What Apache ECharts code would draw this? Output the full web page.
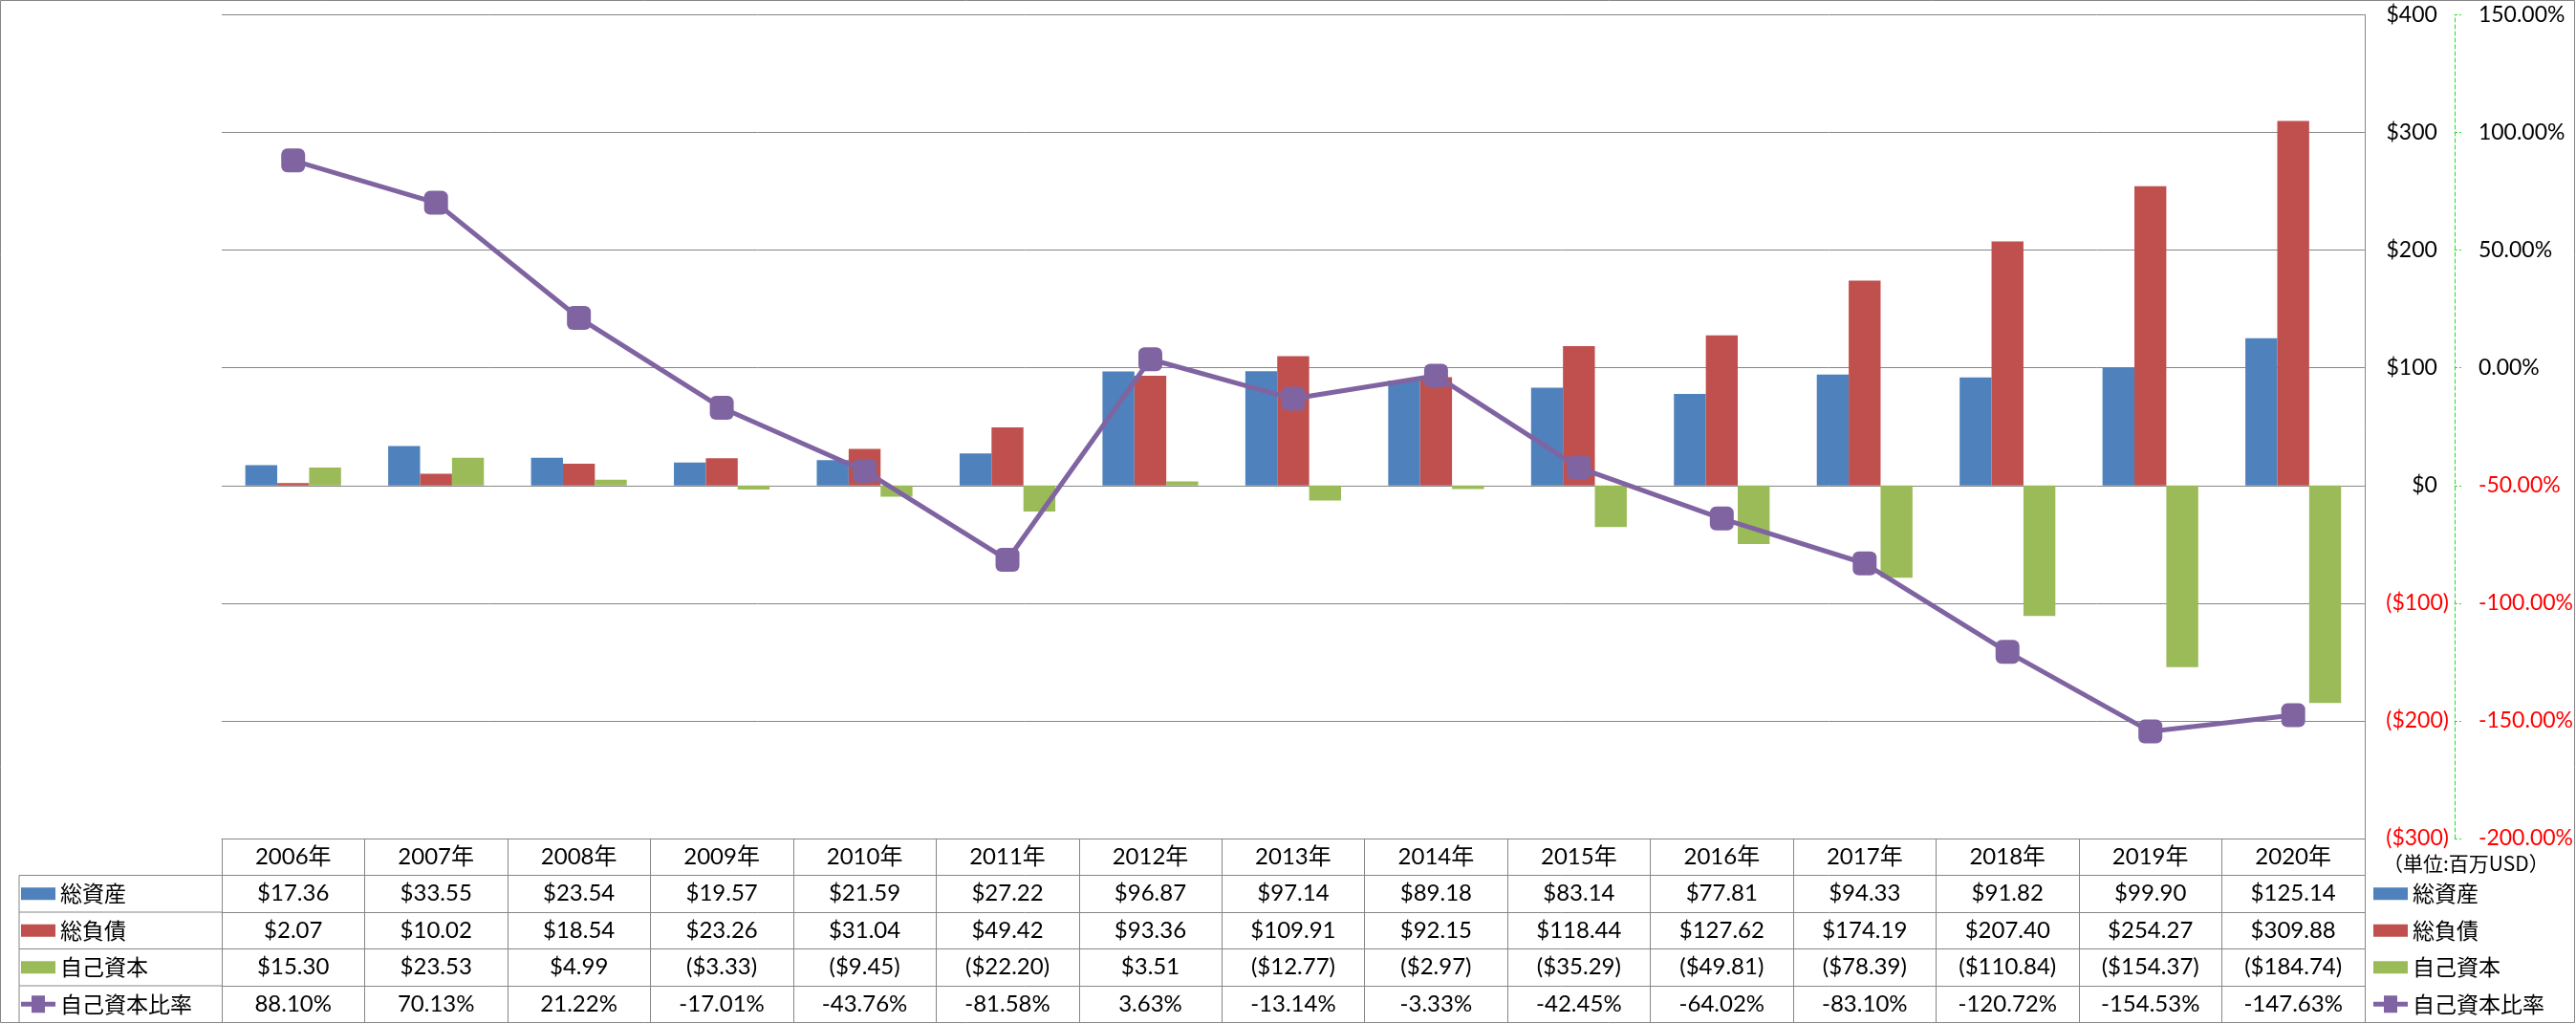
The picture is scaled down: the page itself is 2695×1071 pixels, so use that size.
<!DOCTYPE html>
<html><head><meta charset="utf-8">
<script src="https://cdn.jsdelivr.net/npm/echarts@6/dist/echarts.min.js"></script>
<style>html,body{margin:0;padding:0;background:#fff;} #c{width:2695px;height:1071px;}</style>
</head><body><div id="c"></div>
<script>
// ---- data ----
const years = ['2006年','2007年','2008年','2009年','2010年','2011年','2012年','2013年','2014年','2015年','2016年','2017年','2018年','2019年','2020年'];
const totalAssets = [17.36,33.55,23.54,19.57,21.59,27.22,96.87,97.14,89.18,83.14,77.81,94.33,91.82,99.90,125.14];
const totalLiabilities = [2.07,10.02,18.54,23.26,31.04,49.42,93.36,109.91,92.15,118.44,127.62,174.19,207.40,254.27,309.88];
const equity = [15.30,23.53,4.99,-3.33,-9.45,-22.20,3.51,-12.77,-2.97,-35.29,-49.81,-78.39,-110.84,-154.37,-184.74];
const equityRatio = [88.10,70.13,21.22,-17.01,-43.76,-81.58,3.63,-13.14,-3.33,-42.45,-64.02,-83.10,-120.72,-154.53,-147.63];
const seriesNames = ['総資産','総負債','自己資本','自己資本比率'];
const unitLabel = '（単位:百万USD）';

// ---- layout / style ----
const W = 2695, H = 1071;
const gridLeft = 232, gridRightX = 2477, gridTop = 15.5, gridBottomY = 877;
const rowH = 38.5;
const gridColor = '#868686';
const colors = ['#4F81BD','#C0504D','#9BBB59','#8064A2'];
const axisFont = 'Lato, "Noto Sans", sans-serif';
const tableFont = '"Liberation Sans Narrow", Lato, "Noto Sans CJK JP", sans-serif';
const cjkFont = '"Noto Sans CJK JP", sans-serif';

const fmtDollar = v => v < 0 ? '($' + (-v).toFixed(2) + ')' : '$' + v.toFixed(2);
const fmtPct = v => v.toFixed(2) + '%';

function rowAxis(data, k) {
  return {
    type: 'category', gridIndex: 0, position: 'bottom', offset: k * rowH, data: data,
    boundaryGap: true,
    axisLine: {show: true, onZero: false, lineStyle: {color: gridColor, width: 1}},
    axisTick: {show: true, interval: 0, length: rowH, lineStyle: {color: gridColor, width: 1}},
    axisLabel: {show: true, interval: 0, margin: rowH / 2, verticalAlign: 'middle',
      color: '#000', fontSize: 24, fontFamily: tableFont},
    splitLine: {show: false}
  };
}

const chart = echarts.init(document.getElementById('c'), null, {renderer: 'canvas'});

// legend icons (bar swatch padded vertically inside a 36x18 box; line icon = thick line + square marker)
const barIcon = 'path://M0,0M0,2.5H36V15.5H0ZM36,18';
const lineIcon = 'path://M0,6.5H11V0H25V6.5H36V11.5H25V18H11V11.5H0Z';
const legendData = seriesNames.map((n, i) => ({name: n, icon: i < 3 ? barIcon : lineIcon}));

const legendBase = {
  orient: 'vertical', itemWidth: 36, itemHeight: 18, itemGap: rowH - 24,
  padding: 0, height: 170,
  selectedMode: false, data: legendData,
  top: gridBottomY + rowH * 1.5 - 12,
  textStyle: {fontSize: 23, lineHeight: 24, color: '#000', fontFamily: cjkFont}
};

const lines = [];
lines.push({type: 'line', shape: {x1: 20, y1: gridBottomY + rowH, x2: 20, y2: gridBottomY + rowH * 5}, style: {stroke: gridColor, lineWidth: 1}});
for (let k = 1; k <= 4; k++) {
  lines.push({type: 'line', shape: {x1: 20, y1: gridBottomY + rowH * k, x2: gridLeft, y2: gridBottomY + rowH * k}, style: {stroke: gridColor, lineWidth: 1}});
}

chart.setOption({
  animation: false,
  backgroundColor: '#fff',
  grid: {left: gridLeft, right: W - gridRightX, top: gridTop, bottom: H - gridBottomY, containLabel: false},
  legend: [
    Object.assign({}, legendBase, {left: 22}),
    Object.assign({}, legendBase, {left: 2483})
  ],
  xAxis: [
    rowAxis(years, 0),
    rowAxis(totalAssets.map(fmtDollar), 1),
    rowAxis(totalLiabilities.map(fmtDollar), 2),
    rowAxis(equity.map(fmtDollar), 3),
    rowAxis(equityRatio.map(fmtPct), 4)
  ],
  yAxis: [
    {
      type: 'value', position: 'right', min: -300, max: 400, interval: 100,
      axisLine: {show: true, lineStyle: {color: gridColor, width: 1}},
      axisTick: {show: false},
      splitLine: {show: true, lineStyle: {color: gridColor, width: 1}},
      axisLabel: {
        margin: 88, align: 'right', verticalAlign: 'middle',
        formatter: v => v < 0 ? '{n|($' + (-v) + ')}' : '{p|$' + v + '}',
        rich: {
          n: {color: '#FF0000', fontSize: 23, fontFamily: axisFont},
          p: {color: '#000', fontSize: 23, fontFamily: axisFont, padding: [0, 12, 0, 0]}
        }
      }
    },
    {
      type: 'value', position: 'right', offset: 94, min: -200, max: 150, interval: 50,
      axisLine: {show: true, lineStyle: {color: '#22DD22', width: 1, type: [4, 3]}},
      axisTick: {show: true, length: 7, lineStyle: {color: '#22DD22', width: 1, type: [3, 2]}},
      splitLine: {show: false},
      axisLabel: {
        margin: 25, align: 'left', verticalAlign: 'middle',
        formatter: v => (v < 0 ? '{n|' : '{p|') + v.toFixed(2) + '%}',
        rich: {
          n: {color: '#FF0000', fontSize: 23, fontFamily: axisFont},
          p: {color: '#000', fontSize: 23, fontFamily: axisFont}
        }
      }
    }
  ],
  graphic: [
    {type: 'rect', shape: {x: 0.5, y: 0.5, width: W - 2, height: H - 2}, style: {fill: null, stroke: gridColor, lineWidth: 1}, silent: true},
    {type: 'text', x: 2493, y: gridBottomY + rowH * 0.68, style: {text: unitLabel, fontSize: 21, fontFamily: cjkFont, fill: '#000', textVerticalAlign: 'middle'}, silent: true}
  ].concat(lines),
  series: [
    {name: seriesNames[0], type: 'bar', xAxisIndex: 0, yAxisIndex: 0, data: totalAssets, itemStyle: {color: colors[0]}, barGap: '0%', barCategoryGap: '33%'},
    {name: seriesNames[1], type: 'bar', xAxisIndex: 0, yAxisIndex: 0, data: totalLiabilities, itemStyle: {color: colors[1]}, barGap: '0%', barCategoryGap: '33%'},
    {name: seriesNames[2], type: 'bar', xAxisIndex: 0, yAxisIndex: 0, data: equity, itemStyle: {color: colors[2]}, barGap: '0%', barCategoryGap: '33%'},
    {name: seriesNames[3], type: 'line', xAxisIndex: 0, yAxisIndex: 1, data: equityRatio,
      symbol: 'roundRect', symbolSize: 25, z: 5,
      lineStyle: {width: 5, color: colors[3]}, itemStyle: {color: colors[3]}}
  ]
});
</script>
</body></html>
